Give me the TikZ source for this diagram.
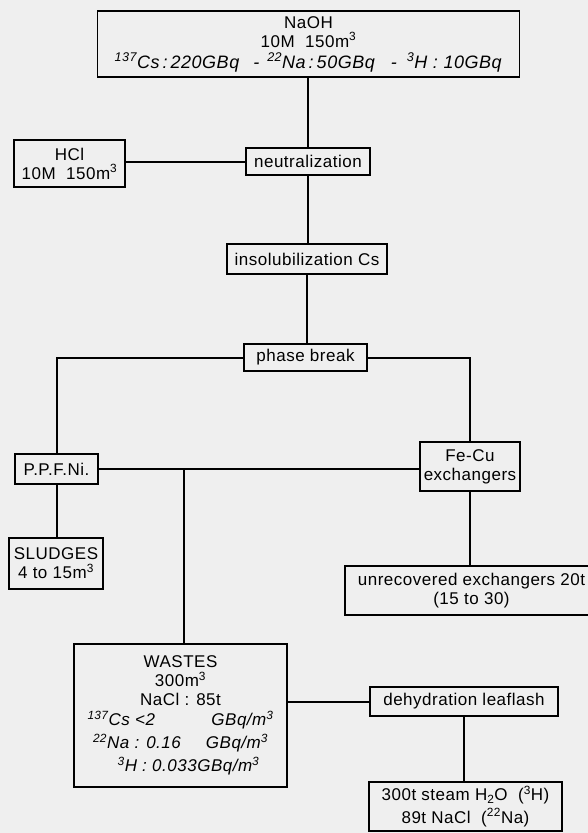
\documentclass[tikz,border=0pt]{standalone}
\usepackage{fontspec}
\setmainfont[LetterSpace=3]{Liberation Sans}
\definecolor{bg}{RGB}{239,239,239}
\begin{document}
\begin{tikzpicture}[x=1pt,y=-1pt,
  box/.style={draw=black, line width=1.8pt, fill=bg, inner sep=1pt, align=center,
    font=\fontsize{17}{19}\selectfont},
  conn/.style={line width=2pt}]
\useasboundingbox (0,0) rectangle (588,833);
\fill[bg] (0,0) rectangle (588,833);

\node[box, minimum width=422pt, minimum height=66pt] (naoh) at (308.5,44)
  {NaOH\\10M\ \ 150m\textsuperscript{3}\\[2pt]
   {\fontsize{18}{19}\selectfont\textit{\textsuperscript{137}Cs\,:\,220GBq\hspace{14pt}-\hspace{8pt}\textsuperscript{22}Na\,:\,50GBq\hspace{16pt}-\hspace{10pt}\textsuperscript{3}H\ :\ 10GBq}}};
\node[box, minimum width=111pt, minimum height=47pt] (hcl) at (69.5,163.5)
  {HCl\\10M\ \ 150m\textsuperscript{3}};
\node[box, minimum width=124pt, minimum height=27pt] (neut) at (308,161.5) {neutralization};
\node[box, minimum width=160pt, minimum height=30pt] (insol) at (307,259) {insolubilization Cs};
\node[box, minimum width=123pt, minimum height=27pt] (phase) at (305.5,357.5) {phase break};
\node[box, minimum width=83pt, minimum height=30pt] (ppf) at (56.5,469) {P.P.F.Ni.};
\node[box, minimum width=100pt, minimum height=49pt] (fecu) at (470,466.5) {Fe-Cu\\exchangers};
\node[box, minimum width=94pt, minimum height=51pt] (sludge) at (56,563.5) {SLUDGES\\4 to 15m\textsuperscript{3}};
\node[box, minimum width=253pt, minimum height=49pt] (unrec) at (471.5,590.5)
  {unrecovered exchangers 20t\\(15 to 30)};
\node[box, minimum width=213pt, minimum height=143pt] (wastes) at (180.5,715.5)
  {WASTES\\300m\textsuperscript{3}\\NaCl : 85t\\[1pt]
   \makebox[186pt]{\textit{\textsuperscript{137}Cs <2}\hfill\textit{GBq/m\textsuperscript{3}}}\\[4pt]
   \makebox[175pt]{\textit{\textsuperscript{22}Na : 0.16}\hfill\textit{GBq/m\textsuperscript{3}}}\hspace*{10pt}\\[4pt]
   \hspace*{16pt}\textit{\textsuperscript{3}H : 0.033GBq/m\textsuperscript{3}}};
\node[box, minimum width=193pt, minimum height=49pt, font=\fontsize{17}{18}\selectfont] (steam) at (465.5,806.5)
  {300t steam H\textsubscript{2}O\ \ (\textsuperscript{3}H)\\[3pt]89t NaCl\ \ (\textsuperscript{22}Na)};
\node[box, minimum width=188pt, minimum height=29pt] (dehyd) at (464,701.5) {dehydration leaflash};

\coordinate (jw) at (184,469);

\draw[conn] (neut.north |- naoh.south) -- (neut.north);
\draw[conn] (hcl.east |- neut.west) -- (neut.west);
\draw[conn] (neut.south) -- (neut.south |- insol.north);
\draw[conn] (insol.south) -- (insol.south |- phase.north);
\draw[conn] (phase.west) -| (ppf.north);
\draw[conn] (phase.east) -| (fecu.north);
\draw[conn] (ppf.east) -- (ppf.east -| fecu.west);
\draw[conn] (jw) -- (jw |- wastes.north);
\draw[conn] (ppf.south) -- (ppf.south |- sludge.north);
\draw[conn] (fecu.south) -- (fecu.south |- unrec.north);
\draw[conn] (wastes.east |- dehyd.west) -- (dehyd.west);
\draw[conn] (dehyd.south) -- (dehyd.south |- steam.north);
\end{tikzpicture}
\end{document}
